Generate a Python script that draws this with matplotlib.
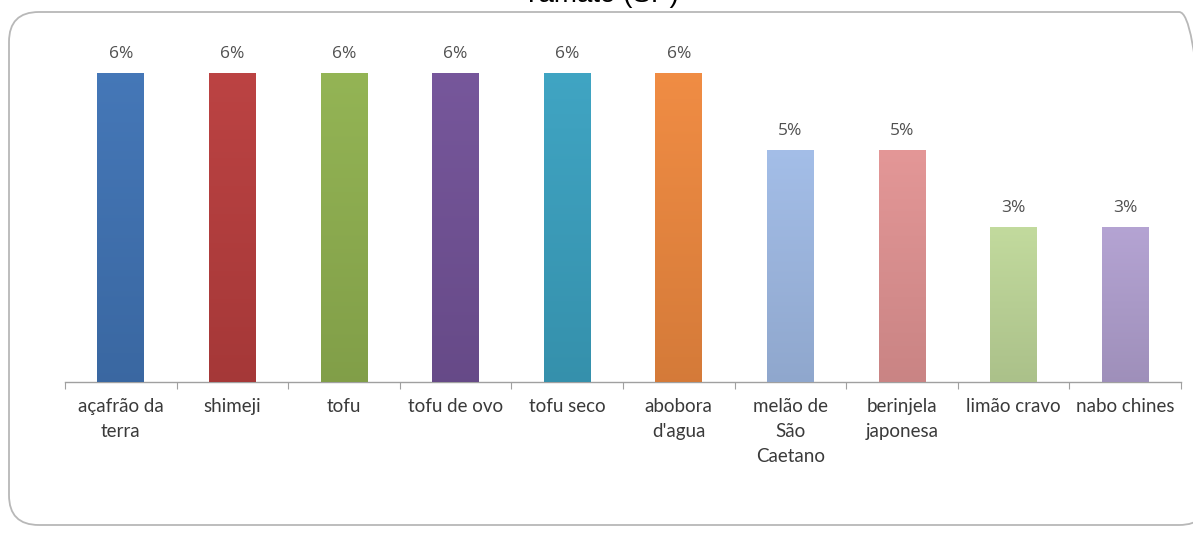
import matplotlib
matplotlib.use("Agg")
import matplotlib.pyplot as plt
import numpy as np
from matplotlib.patches import FancyBboxPatch
from matplotlib.colors import to_rgb, LinearSegmentedColormap

# Share of each product (percent of responses)
categories = ["açafrão da\nterra", "shimeji", "tofu", "tofu de ovo", "tofu seco",
              "abobora\nd'agua", "melão de\nSão\nCaetano", "berinjela\njaponesa",
              "limão cravo", "nabo chines"]
shares = [6.06, 6.06, 6.06, 6.06, 6.06, 6.06, 4.55, 4.55, 3.03, 3.03]
bar_colors = ["#3D6DAA", "#AE3B3B", "#88A74C", "#6C4E8F", "#3898B5",
              "#E0813C", "#97B0D8", "#D48B8B", "#B4CB91", "#A797C4"]
title = "Yamato (SP)"

W, H = 1193, 533
fig = plt.figure(figsize=(W / 100, H / 100), dpi=100)
fig.patch.set_facecolor("white")

# rounded chart frame
frame = FancyBboxPatch((9 / W, 8 / H), 1200 / W, 513 / H,
                       boxstyle="round,pad=0,rounding_size=0.025",
                       transform=fig.transFigure, facecolor="none",
                       edgecolor="#B8B8B8", linewidth=1.3, zorder=-1,
                       mutation_aspect=W / H)
fig.patches.append(frame)

fig.text(0.503, 1 - 2 / H, title, ha="center", va="baseline",
         fontsize=20, family="Liberation Sans", color="black")

left, right = 65 / W, 1181 / W
bottom = (H - 382) / H
ax = fig.add_axes([left, bottom, right - left, 357 / H])
ax.set_facecolor("none")

x = np.arange(len(categories))
bars = ax.bar(x, shares, width=0.42, color=bar_colors, zorder=2)

# gentle vertical shading inside each bar: a bit lighter on top
for b, c in zip(bars, bar_colors):
    r, g, bl = to_rgb(c)
    top = tuple(min(1, v * 1.05 + 0.02) for v in (r, g, bl))
    base = tuple(v * 0.95 for v in (r, g, bl))
    cmap = LinearSegmentedColormap.from_list("shade", [base, top])
    grad = np.linspace(0, 1, 256).reshape(-1, 1)
    x0, y0 = b.get_x(), b.get_y()
    w, h = b.get_width(), b.get_height()
    im = ax.imshow(grad, cmap=cmap, origin="lower", aspect="auto",
                   extent=(x0, x0 + w, y0, y0 + h), zorder=3)
    im.set_clip_path(b)
    ax.text(b.get_x() + w / 2, h + 0.38, f"{h:.0f}%", ha="center",
            va="center", fontsize=12.5, family="Open Sans", color="#505050")

ax.set_xlim(-0.5, len(categories) - 0.5)
ax.set_ylim(0, 7)

for s in ["top", "right", "left"]:
    ax.spines[s].set_visible(False)
ax.spines["bottom"].set_color("#A0A0A0")
ax.spines["bottom"].set_linewidth(1.0)
ax.set_yticks([])
ax.set_xticks(np.arange(-0.5, len(categories), 1.0))
ax.set_xticklabels([])
ax.tick_params(axis="x", which="major", length=5, color="#A0A0A0", direction="out")
for i, lab in enumerate(categories):
    ax.text(i, -0.32, lab, ha="center", va="top", fontsize=13.5,
            family="Lato", color="#3A3A3A", linespacing=1.56)

fig.savefig("out.png", dpi=100, facecolor="white")
